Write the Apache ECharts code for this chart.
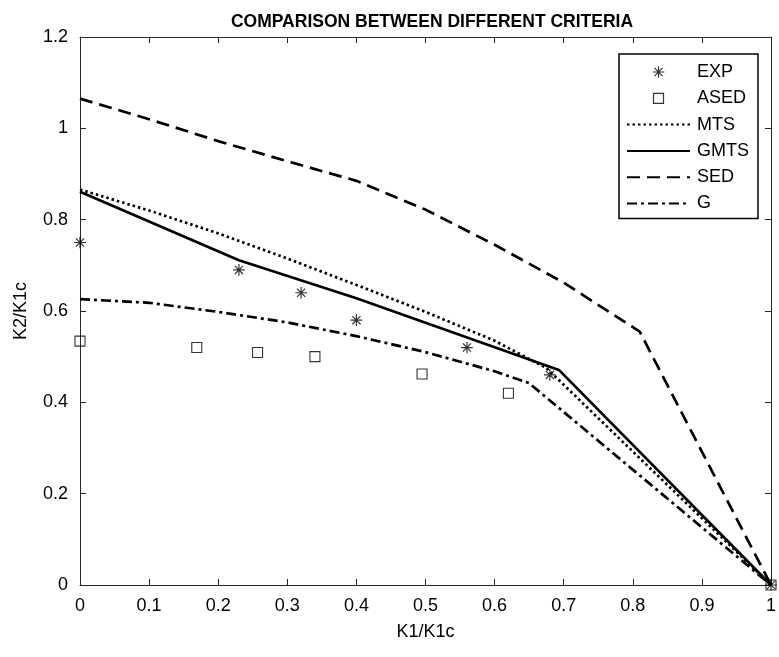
<!DOCTYPE html>
<html>
<head>
<meta charset="utf-8">
<script src="https://cdn.jsdelivr.net/npm/echarts@6/dist/echarts.min.js"></script>
<style>html,body{margin:0;padding:0;background:#fff}#c{width:779px;height:657px}</style>
</head>
<body>
<div id="c"></div>
<script>
// ---- data ----
const expX  = [0, 0.23, 0.32, 0.40, 0.56, 0.68, 1.0];
const expY  = [0.75, 0.69, 0.64, 0.58, 0.52, 0.46, 0.0];
const asedX = [0, 0.169, 0.257, 0.34, 0.495, 0.62, 1.0];
const asedY = [0.534, 0.52, 0.509, 0.50, 0.462, 0.42, 0.0];
const mtsX  = [0, 0.1, 0.2, 0.3, 0.4, 0.5, 0.6, 0.675, 1.0];
const mtsY  = [0.866, 0.82, 0.77, 0.715, 0.657, 0.598, 0.535, 0.475, 0.0];
const gmtsX = [0, 0.23, 0.4, 0.693, 1.0];
const gmtsY = [0.861, 0.711, 0.628, 0.471, 0.0];
const sedX  = [0, 0.1, 0.2, 0.3, 0.4, 0.5, 0.6, 0.7, 0.81, 1.0];
const sedY  = [1.065, 1.02, 0.972, 0.928, 0.885, 0.822, 0.745, 0.662, 0.555, 0.0];
const gX    = [0, 0.1, 0.2, 0.3, 0.4, 0.5, 0.6, 0.65, 1.0];
const gY    = [0.626, 0.618, 0.598, 0.575, 0.545, 0.51, 0.468, 0.442, 0.0];
const seriesNames = ['EXP', 'ASED', 'MTS', 'GMTS', 'SED', 'G'];
const titleText = 'COMPARISON BETWEEN DIFFERENT CRITERIA';
const xName = 'K1/K1c', yName = 'K2/K1c';

const zip = (xs, ys) => xs.map((x, i) => [x, ys[i]]);
const FONT = '"Liberation Sans", Arial, Helvetica, sans-serif';
const AX = '#262626';
// symbols padded with move-to points so the legend icon keeps the same proportions
const star = 'path://M-1,-1 M0,5 L10,5 M5,0 L5,10 M1.5,1.5 L8.5,8.5 M8.5,1.5 L1.5,8.5 M11,11';
const square = 'path://M-2,-2 M0,0 L10,0 L10,10 L0,10 Z M12,12';

const chart = echarts.init(document.getElementById('c'), null, {renderer: 'canvas'});
const axisCommon = {
  type: 'value', min: 0,
  axisLine: {show: true, onZero: false, lineStyle: {color: AX, width: 1}},
  axisTick: {show: true, inside: true, length: 6, lineStyle: {color: AX, width: 1}},
  splitLine: {show: false},
  axisLabel: {color: '#000', fontFamily: FONT, fontSize: 18, margin: 12}
};
const lineSeries = (name, xs, ys, dash) => ({
  name, type: 'line', data: zip(xs, ys), symbol: 'none', showSymbol: false,
  lineStyle: {color: '#000', width: 2.7, type: dash},
  itemStyle: {color: 'transparent', borderColor: 'transparent', borderWidth: 0},
  z: 2, silent: true, animation: false
});
const legendData = seriesNames.map((n, i) => i < 2
  ? {name: n, itemStyle: {color: 'transparent', borderColor: '#000', borderWidth: 1.2}}
  : {name: n, itemStyle: {opacity: 0}});
chart.setOption({
  animation: false,
  backgroundColor: '#fff',
  title: {text: titleText, left: 427, top: 8, textAlign: 'center',
    textStyle: {fontFamily: FONT, fontSize: 17.5, fontWeight: 'bold', color: '#000'}},
  grid: {left: 80, right: 6, top: 37, bottom: 72, containLabel: false},
  xAxis: [
    Object.assign({}, axisCommon, {max: 1, interval: 0.1, position: 'bottom',
      name: xName, nameLocation: 'middle', nameGap: 38,
      nameTextStyle: {fontFamily: FONT, fontSize: 18, color: '#000'}}),
    Object.assign({}, axisCommon, {max: 1, interval: 0.1, position: 'top', axisLabel: {show: false}})
  ],
  yAxis: [
    Object.assign({}, axisCommon, {max: 1.2, interval: 0.2, position: 'left',
      name: yName, nameLocation: 'middle', nameGap: 50, nameRotate: 90,
      nameTextStyle: {fontFamily: FONT, fontSize: 18, color: '#000'}}),
    Object.assign({}, axisCommon, {max: 1.2, interval: 0.2, position: 'right', axisLabel: {show: false}})
  ],
  legend: {
    orient: 'vertical', left: 619, top: 54,
    padding: [9, 9, 6, 7], itemGap: 8.3, itemWidth: 63, itemHeight: 14,
    borderColor: '#000', borderWidth: 1.5, backgroundColor: '#fff',
    textStyle: {fontFamily: FONT, fontSize: 18, color: '#000', padding: [0, 0, 0, 2]},
    data: legendData, selectedMode: false
  },
  series: [
    {name: 'EXP', type: 'scatter', data: zip(expX, expY), symbol: star, symbolSize: 14,
      itemStyle: {color: 'transparent', borderColor: '#000', borderWidth: 1.2}, z: 3},
    {name: 'ASED', type: 'scatter', data: zip(asedX, asedY), symbol: square, symbolSize: 14,
      itemStyle: {color: 'transparent', borderColor: '#000', borderWidth: 1.1}, z: 3},
    lineSeries('MTS', mtsX, mtsY, [2.5, 3]),
    lineSeries('GMTS', gmtsX, gmtsY, 'solid'),
    lineSeries('SED', sedX, sedY, [13, 7]),
    lineSeries('G', gX, gY, [10, 4, 3, 4])
  ]
});
</script>
</body>
</html>
